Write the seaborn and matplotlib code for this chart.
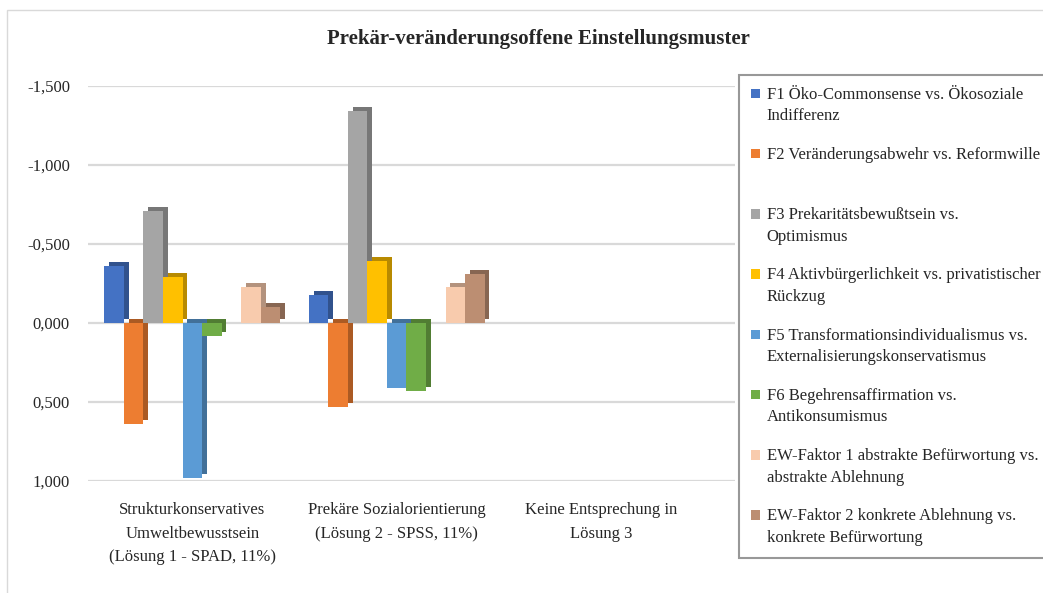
import numpy as np
import pandas as pd
import matplotlib
matplotlib.use("Agg")
import matplotlib.pyplot as plt
import matplotlib.patheffects as pe
from matplotlib.patches import Patch, Rectangle
from matplotlib.legend_handler import HandlerPatch
from matplotlib.colors import to_rgb
import seaborn as sns

# ==========================================================
# DATA
# ==========================================================

groups = [
    "Strukturkonservatives\nUmweltbewusstsein\n(Lösung 1 - SPAD, 11%)",
    "Prekäre Sozialorientierung\n(Lösung 2 - SPSS, 11%)",
    "Keine Entsprechung in\nLösung 3",
]

series = [
    "F1 Öko-Commonsense vs. Ökosoziale\nIndifferenz",
    "F2 Veränderungsabwehr vs. Reformwille",
    "F3 Prekaritätsbewußtsein vs.\nOptimismus",
    "F4 Aktivbürgerlichkeit vs. privatistischer\nRückzug",
    "F5 Transformationsindividualismus vs.\nExternalisierungskonservatismus",
    "F6 Begehrensaffirmation vs.\nAntikonsumismus",
    " ",  # empty slot in the original chart
    "EW-Faktor 1 abstrakte Befürwortung vs.\nabstrakte Ablehnung",
    "EW-Faktor 2 konkrete Ablehnung vs.\nkonkrete Befürwortung",
]

colors = ["#4472C4", "#ED7D31", "#A5A5A5", "#FFC000", "#5B9BD5",
          "#70AD47", "#FFFFFF", "#F8CBAD", "#BC8E72"]

vals_g1 = [-0.36, 0.64, -0.71, -0.29, 0.98, 0.08, np.nan, -0.23, -0.10]
vals_g2 = [-0.18, 0.53, -1.34, -0.39, 0.41, 0.43, np.nan, -0.23, -0.31]
vals_g3 = [np.nan] * 9

yticks = [-1.5, -1.0, -0.5, 0.0, 0.5, 1.0]

rows = []
for g, vals in zip(groups, [vals_g1, vals_g2, vals_g3]):
    for s, v in zip(series, vals):
        rows.append({"group": g, "series": s, "value": v})
df = pd.DataFrame(rows)

# ==========================================================
# PLOT
# ==========================================================

sns.set_style("white")
plt.rcParams["font.family"] = ["Liberation Serif", "DejaVu Serif"]

fig = plt.figure(figsize=(10.43, 5.93), dpi=100)
ax = fig.add_axes([0.0844, 0.189, 0.6203, 0.666])

sns.barplot(
    data=df, x="group", y="value", hue="series",
    order=groups, hue_order=series,
    palette=dict(zip(series, colors)),
    width=0.86, errorbar=None, ax=ax, legend=False,
    linewidth=0, saturation=1,
)

# fake 3D depth
for p in ax.patches:
    fc = np.array(to_rgb(p.get_facecolor()[:3]))
    p.set_path_effects([
        pe.SimplePatchShadow(offset=(3.5, 2.8), shadow_rgbFace=fc * 0.72, alpha=1),
        pe.Normal(),
    ])

ax.set_ylim(1.0, -1.5)
ax.set_xlim(-0.51, 2.655)
ax.set_yticks(yticks)
ax.set_yticklabels([f"{v:.3f}".replace(".", ",") for v in yticks], fontsize=12)
ax.set_xticks(range(len(groups)))
ax.set_xticklabels(groups, fontsize=12, linespacing=1.65)
ax.tick_params(axis="x", length=0, pad=15)
ax.tick_params(axis="y", length=0, pad=13)
ax.set_xlabel("")
ax.set_ylabel("")
ax.grid(axis="y", color="#d9d9d9", linewidth=1.6)
ax.set_axisbelow(True)
for sp in ax.spines.values():
    sp.set_visible(False)

fig.text(0.516, 0.935, "Prekär-veränderungsoffene Einstellungsmuster",
         ha="center", va="center", fontsize=15, fontweight="bold")


# legend: square next to the first line of each entry
def top_square(legend, orig_handle, xdescent, ydescent, width, height, fontsize):
    return Rectangle((-xdescent, -ydescent + 0.72 * fontsize), width, height)


handles, labels = [], []
for s, c in zip(series, colors):
    if s.strip() == "":
        continue
    handles.append(Patch(facecolor=c, edgecolor="none"))
    labels.append(s if "\n" in s else s + "\n ")
leg = fig.legend(
    handles, labels, loc="upper left", bbox_to_anchor=(0.709, 0.874),
    fontsize=12, frameon=True, fancybox=False, edgecolor="#7f7f7f",
    handlelength=0.5, handleheight=0.5, handletextpad=0.42,
    labelspacing=1.37, borderpad=0.72, borderaxespad=0,
    handler_map={Patch: HandlerPatch(patch_func=top_square)},
)
leg.get_frame().set_linewidth(1.5)
for t in leg.get_texts():
    t.set_linespacing(1.45)

fig.patches.append(Rectangle((0.007, -0.1), 1.1, 1.083, transform=fig.transFigure,
                             fill=False, edgecolor="#d9d9d9", linewidth=1))

plt.savefig("out.png", dpi=100)
